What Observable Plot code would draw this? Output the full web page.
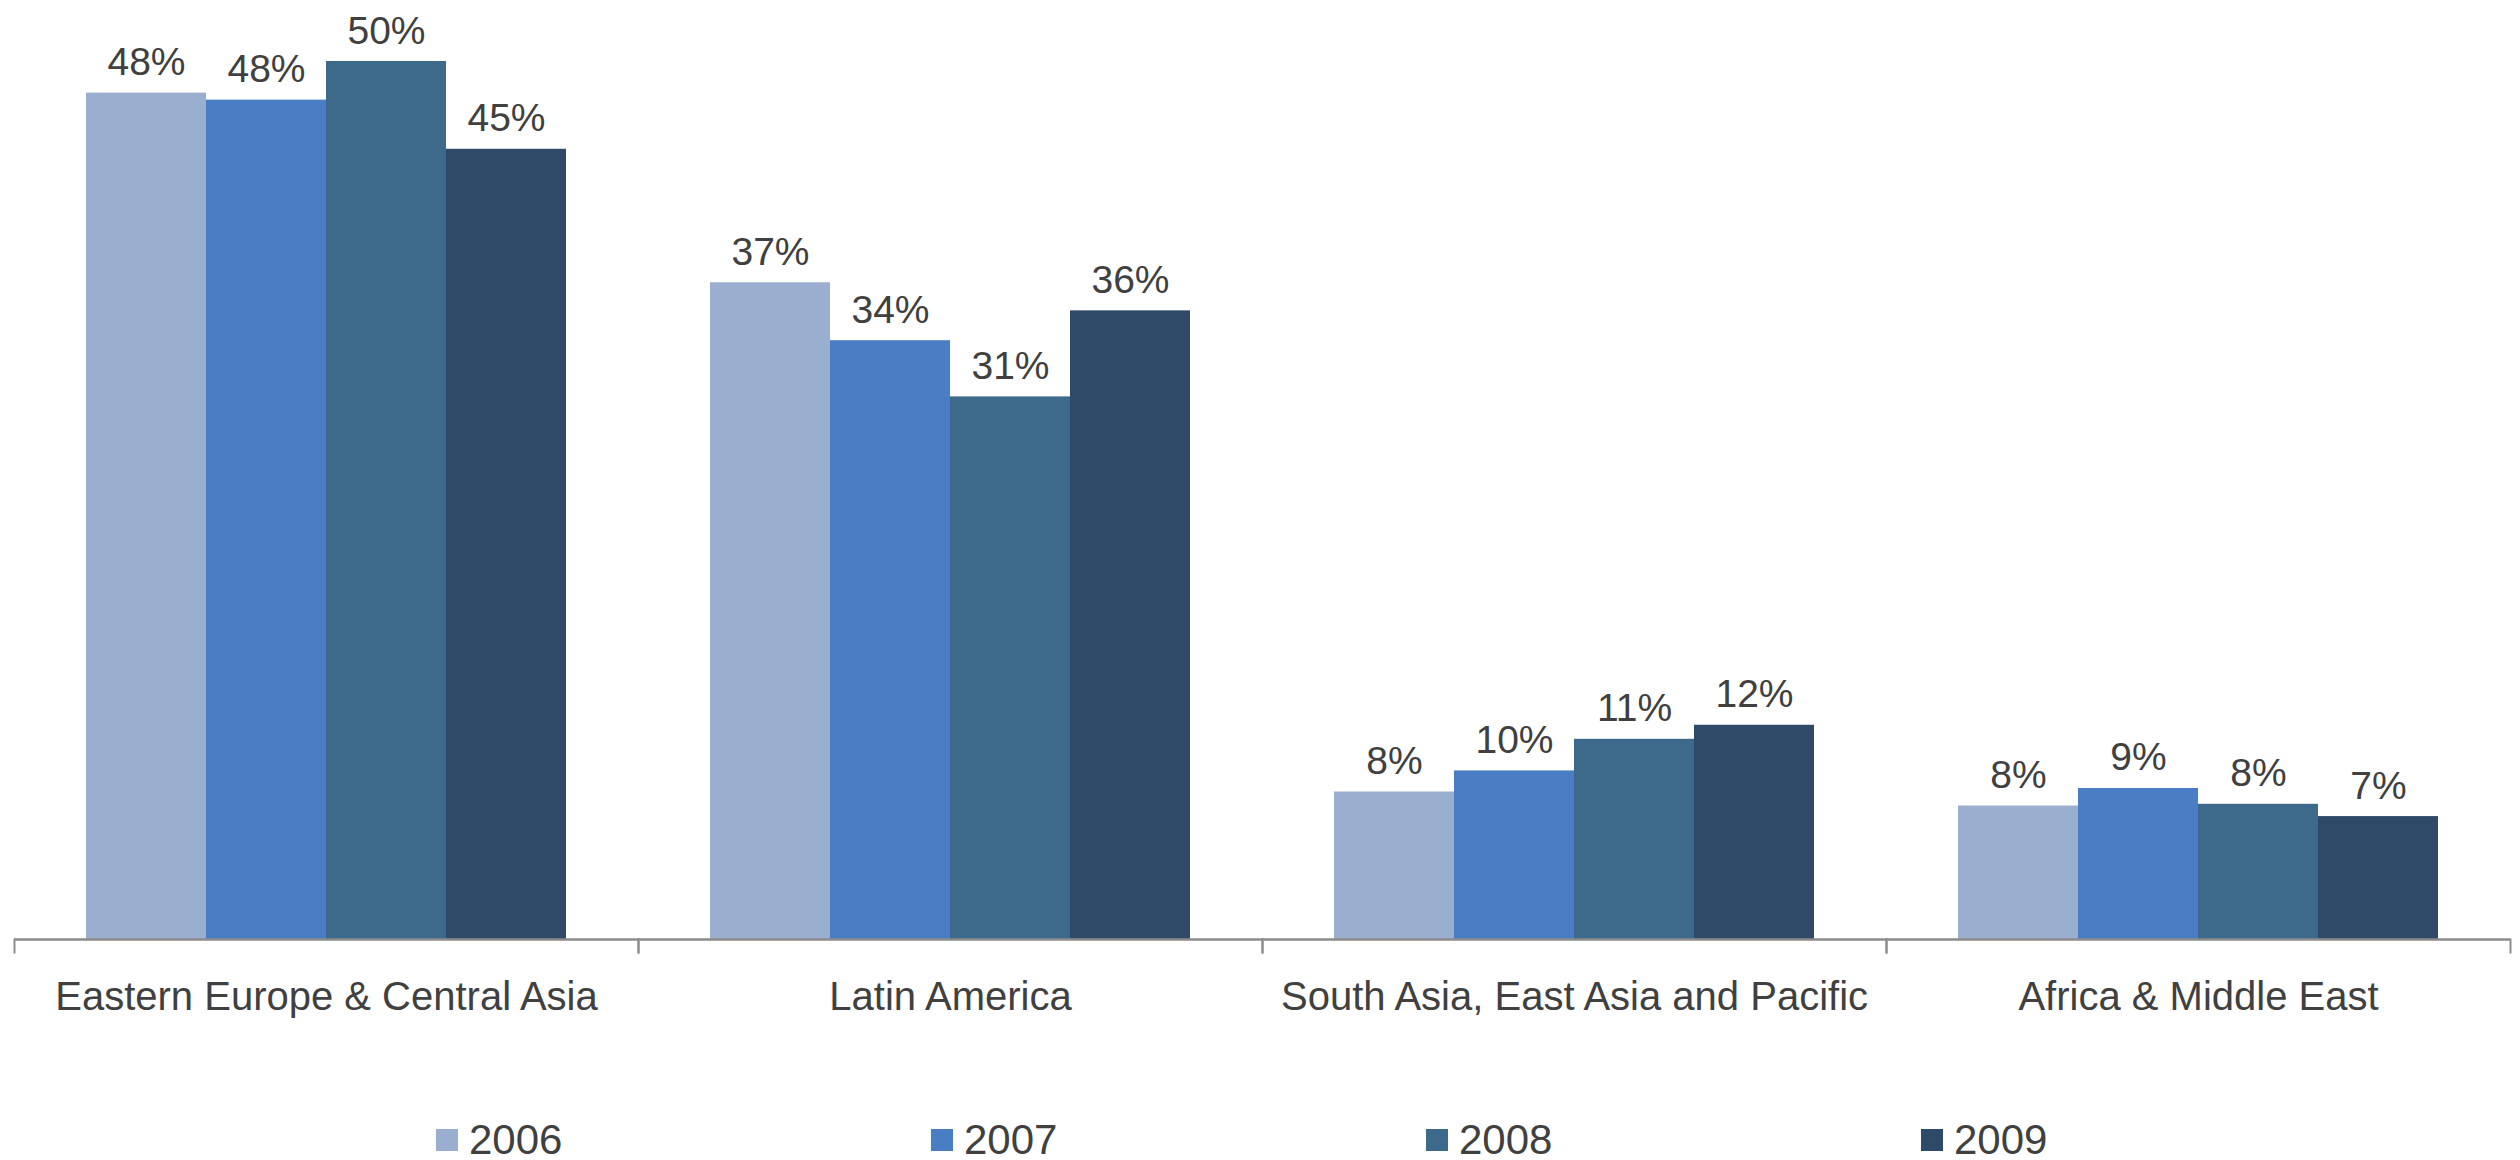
<!DOCTYPE html>
<html>
<head>
<meta charset="utf-8">
<script src="https://cdn.jsdelivr.net/npm/d3@7"></script>
<script src="https://cdn.jsdelivr.net/npm/@observablehq/plot@0.6"></script>
<style>
  html, body { margin: 0; padding: 0; background: #ffffff; }
  body { width: 2520px; height: 1160px; overflow: hidden; position: relative; font-family: "Liberation Sans", Arial, sans-serif; }
  #chart { position: absolute; left: 0; top: 0; }
  #legend { position: absolute; left: 436px; top: 1116px; height: 48px; display: flex; align-items: center; }
  .item { width: 495px; display: flex; align-items: center; font-size: 42px; color: #404040; line-height: normal; }
  .sw { width: 22px; height: 22px; margin-right: 11px; flex: none; }
</style>
</head>
<body>
<div id="chart"></div>
<div id="legend"></div>
<script>
const regions = ["Eastern Europe & Central Asia", "Latin America", "South Asia, East Asia and Pacific", "Africa & Middle East"];
const years = ["2006", "2007", "2008", "2009"];
const v2006 = [48.2, 37.4, 8.4, 7.6];
const v2007 = [47.8, 34.1, 9.6, 8.6];
const v2008 = [50.0, 30.9, 11.4, 7.7];
const v2009 = [45.0, 35.8, 12.2, 7.0];
const colors = ["#9aafcf", "#4a7ec4", "#3d6a8b", "#2f4a68"];

const series = [v2006, v2007, v2008, v2009];
const table = [];
regions.forEach((r, i) => years.forEach((y, j) => table.push({region: r, year: y, value: series[j][i]})));

const chart = Plot.plot({
  width: 2520,
  height: 1060,
  marginTop: 61,
  marginBottom: 121,
  marginLeft: 13,
  marginRight: 10,
  style: {fontFamily: "'Liberation Sans', Arial, sans-serif", color: "#404040", background: "white"},
  fx: {domain: regions, padding: 0, label: null},
  x: {domain: years, paddingInner: 0, paddingOuter: 0.58, axis: null},
  y: {domain: [0, 50], axis: null},
  color: {domain: years, range: colors},
  marks: [
    Plot.barY(table, {fx: "region", x: "year", y: "value", fill: "year"}),
    Plot.text(table, {fx: "region", x: "year", y: "value", text: d => Math.round(d.value) + "%", lineAnchor: "bottom", dy: -18, fontSize: 39, fill: "#404040"}),
    Plot.ruleY([0], {stroke: "#8c8c8c", strokeWidth: 2.5}),
    Plot.frame({anchor: "left", stroke: "#8c8c8c", strokeWidth: 2, insetTop: 878, insetBottom: -13}),
    Plot.frame({anchor: "right", stroke: "#8c8c8c", strokeWidth: 2, insetTop: 878, insetBottom: -13}),
    Plot.axisFx({anchor: "bottom", tickSize: 0, tickPadding: 42, fontSize: 40, label: null, fill: "#404040"})
  ]
});
document.getElementById("chart").appendChild(chart);

const legend = document.getElementById("legend");
years.forEach((y, i) => {
  const item = document.createElement("div");
  item.className = "item";
  const sw = document.createElement("span");
  sw.className = "sw";
  sw.style.background = colors[i];
  const tx = document.createElement("span");
  tx.textContent = y;
  item.appendChild(sw);
  item.appendChild(tx);
  legend.appendChild(item);
});
</script>
</body>
</html>
